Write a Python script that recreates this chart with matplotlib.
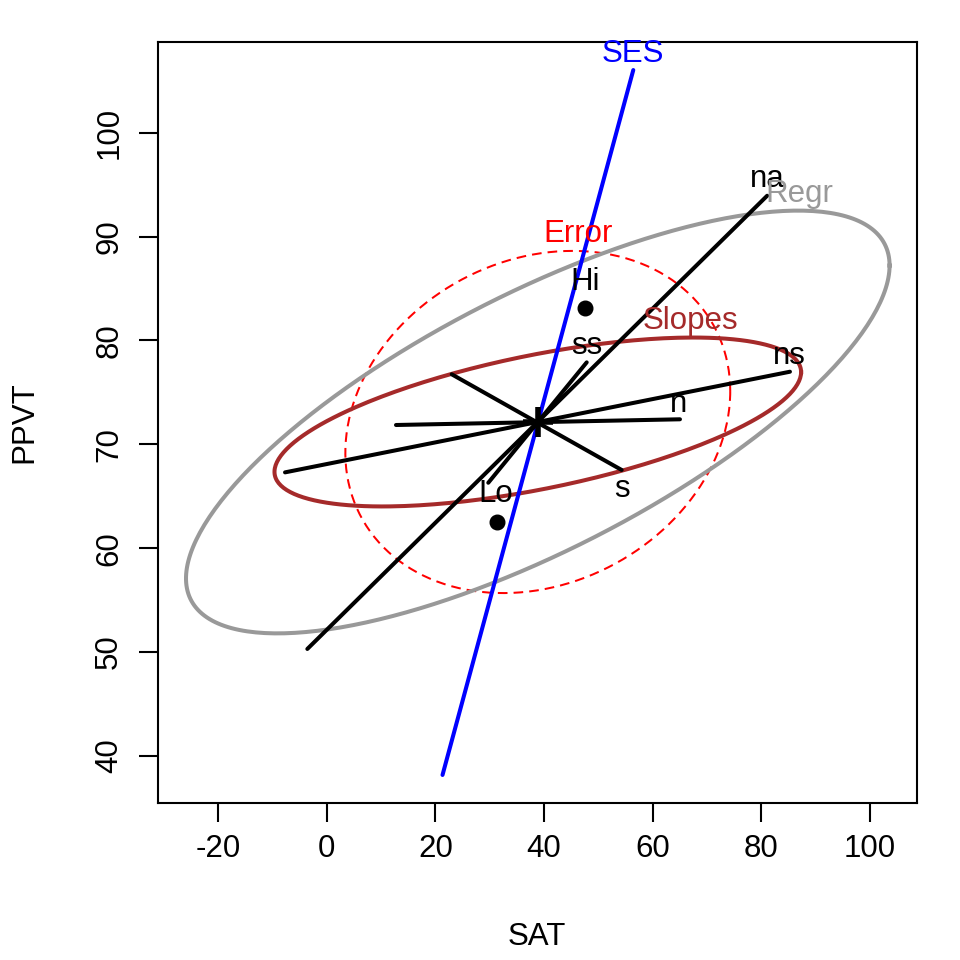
import numpy as np
import matplotlib
matplotlib.use("Agg")
import matplotlib.pyplot as plt

plt.rcParams['font.family'] = ['Liberation Sans', 'DejaVu Sans']

# ---- data ----
center = [38.85, 72.15]

ell_names = ['Error', 'Regr', 'Slopes']
ell_sx = [35.45, 64.8, 48.5]
ell_sy = [16.47, 20.35, 8.13]
ell_r = [0.18, 0.74, 0.59]

line_names = ['SES', 'na', 'ns', 'n', 's', 'ss']
line_x1 = [21.3, -3.6, -7.71, 12.73, 23.0, 29.73]
line_y1 = [38.17, 50.3, 67.3, 71.86, 76.74, 66.3]
line_x2 = [56.44, 81.1, 85.3, 65.04, 54.3, 47.86]
line_y2 = [106.03, 93.93, 76.99, 72.41, 67.53, 77.89]

point_names = ['Hi', 'Lo']
point_x = [47.55, 31.28]
point_y = [83.09, 62.55]

xticks = [-20, 0, 20, 40, 60, 80, 100]
yticks = [40, 50, 60, 70, 80, 90, 100]

# ---- styles / label positions ----
ell_colors = {'Error': 'red', 'Regr': '#999999', 'Slopes': '#A52A2A'}
line_colors = {'SES': 'blue'}
label_pos = {
    'SES': (56.35, 106.77), 'na': (81.1, 94.73), 'Regr': (87.0, 93.35),
    'Error': (46.3, 89.5), 'Hi': (47.6, 84.9), 'Slopes': (67.0, 81.07),
    'ss': (47.86, 78.69), 'ns': (85.2, 77.73), 'n': (64.7, 73.14),
    's': (54.3, 64.96), 'Lo': (31.1, 64.48),
}
label_colors = {'SES': 'blue', 'Regr': '#999999', 'Error': 'red', 'Slopes': '#A52A2A'}

FS = 22.5
LW = 2.9
fig = plt.figure(figsize=(9.6, 9.6), dpi=100)
ax = fig.add_axes([157.5 / 960, 1 - 802.5 / 960, 759.5 / 960, 760.5 / 960])

t = np.linspace(0, 2 * np.pi, 300)
for name, sx, sy, r in zip(ell_names, ell_sx, ell_sy, ell_r):
    ex = center[0] + sx * np.cos(t)
    ey = center[1] + sy * (r * np.cos(t) + np.sqrt(1 - r * r) * np.sin(t))
    if name == 'Error':
        ax.plot(ex, ey, color=ell_colors[name], lw=1.45, dashes=(4.8, 3.0))
    else:
        ax.plot(ex, ey, color=ell_colors[name], lw=LW)

for name, x1, y1, x2, y2 in zip(line_names, line_x1, line_y1, line_x2, line_y2):
    ax.plot([x1, x2], [y1, y2], color=line_colors.get(name, 'black'), lw=LW,
            solid_capstyle='round')

ax.plot(point_x, point_y, 'o', color='black', ms=10.5, ls='none')
ax.plot([center[0]], [center[1]], marker='+', color='black', ms=22, mew=4, ls='none')

for name, (lx, ly) in label_pos.items():
    ax.text(lx, ly, name, color=label_colors.get(name, 'black'), fontsize=FS,
            ha='center', va='baseline')

ax.set_xlim(-31.2, 108.7)
ax.set_ylim(35.52, 108.73)
ax.set_xticks(xticks)
ax.set_yticks(yticks)
ax.set_xticklabels([str(v) for v in xticks])
ax.set_yticklabels([str(v) for v in yticks], rotation=90, va='center')
ax.tick_params(axis='both', length=14, width=1.5, labelsize=FS, direction='out')
ax.tick_params(axis='x', pad=9)
ax.tick_params(axis='y', pad=10)

for s in ax.spines.values():
    s.set_linewidth(1.5)

ax.set_xlabel('SAT', fontsize=FS)
ax.set_ylabel('PPVT', fontsize=FS)
ax.xaxis.set_label_coords(0.5, -(936.7 - 802.5) / 760.5)
ax.xaxis.label.set_va('center')
ax.yaxis.set_label_coords(-(157.5 - 24) / 759.5, 0.5)
ax.yaxis.label.set_va('center')

fig.savefig('out.png', dpi=100)
